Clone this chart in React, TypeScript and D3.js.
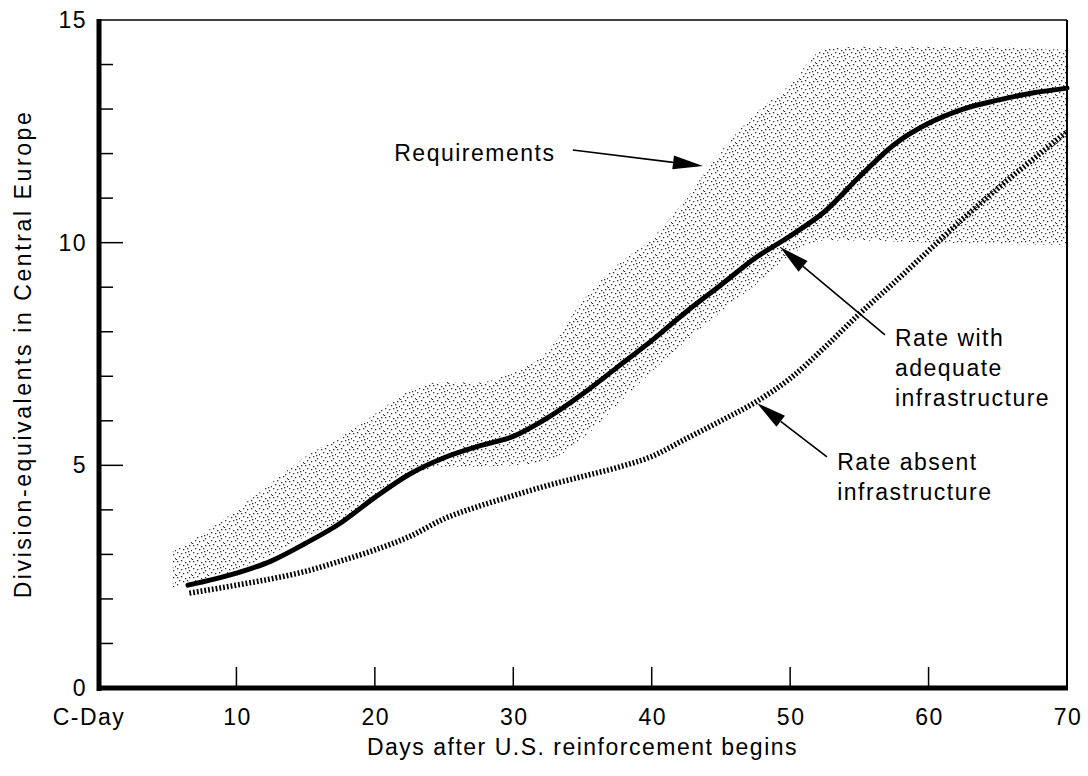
import React from "react";
import * as d3 from "d3";

// ---- data ----
const xTickValues = [0, 10, 20, 30, 40, 50, 60, 70];
const xTickLabels = ["C-Day", "10", "20", "30", "40", "50", "60", "70"];
const yMajorTicks = [0, 5, 10, 15];
const yMinorTicks = [1, 2, 3, 4, 6, 7, 8, 9, 11, 12, 13, 14];

const reqDays = [5.4, 7.5, 10, 12.5, 15, 17.5, 20, 22.5, 25, 27.5, 30, 32.5, 35, 37.5, 40, 42.5, 45, 47.5, 50, 52.5, 55, 60, 65, 70];
const reqLow = [2.25, 2.45, 2.65, 3.0, 3.4, 3.75, 4.25, 4.75, 4.97, 4.97, 5.0, 5.1, 5.6, 6.35, 7.1, 7.8, 8.45, 9.05, 9.72, 10.05, 10.05, 10.0, 9.97, 9.95];
const reqHigh = [3.1, 3.45, 4.0, 4.6, 5.2, 5.63, 6.15, 6.69, 6.87, 6.86, 7.1, 7.57, 8.7, 9.5, 10.1, 11.0, 12.05, 12.9, 13.55, 14.35, 14.4, 14.4, 14.38, 14.33];

const adequateDays = [6.5, 10, 12.5, 15, 17.5, 20, 22.5, 25, 27.5, 30, 32.5, 35, 37.5, 40, 42.5, 45, 47.5, 50, 52.5, 55, 57.5, 60, 62.5, 65, 67.5, 70];
const adequateValues = [2.31, 2.58, 2.85, 3.25, 3.7, 4.28, 4.8, 5.17, 5.43, 5.65, 6.07, 6.6, 7.2, 7.8, 8.45, 9.05, 9.66, 10.15, 10.7, 11.48, 12.2, 12.68, 13.0, 13.2, 13.36, 13.47];

const absentDays = [6.6, 10, 12.5, 15, 17.5, 20, 22.5, 25, 27.5, 30, 32.5, 35, 37.5, 40, 42.5, 45, 47.5, 50, 52.5, 55, 57.5, 60, 62.5, 65, 67.5, 70];
const absentValues = [2.13, 2.31, 2.45, 2.62, 2.85, 3.1, 3.4, 3.8, 4.08, 4.32, 4.55, 4.75, 4.95, 5.2, 5.6, 6.0, 6.42, 6.95, 7.65, 8.4, 9.1, 9.82, 10.54, 11.22, 11.86, 12.49];

// annotation labels (in data units: day, value)
const annLabels = [
  { lines: ["Requirements"], day: 21.4, value: 12.01 },
  { lines: ["Rate with", "adequate", "infrastructure"], day: 57.57, value: 7.86 },
  { lines: ["Rate absent", "infrastructure"], day: 53.4, value: 5.08 },
];
const annArrows = [
  { fromDay: 34.3, fromValue: 12.08, toDay: 43.7, toValue: 11.72 },
  { fromDay: 56.85, fromValue: 7.93, toDay: 49.27, toValue: 9.9 },
  { fromDay: 52.66, fromValue: 5.19, toDay: 47.6, toValue: 6.4 },
];

const xTitle = "Days after U.S. reinforcement begins";
const yTitle = "Division-equivalents in Central Europe";

// stipple tile dot positions (pattern styling)
const stippleDots = [
  [1, 1], [5, 0], [9, 2], [13, 1], [3, 4], [7, 5], [11, 4], [15, 6], [1, 8],
  [5, 9], [9, 8], [13, 10], [3, 12], [7, 13], [11, 12], [15, 14], [0, 15], [12, 7],
];

const W = 1088;
const H = 776;
const FONT = "'Liberation Sans', Arial, Helvetica, sans-serif";

export default function App() {
  const x = d3.scaleLinear().domain([0, 70]).range([98, 1067]);
  const y = d3.scaleLinear().domain([0, 15]).range([688, 20]);

  const band = reqDays.map((d, i) => ({ d, lo: reqLow[i], hi: reqHigh[i] }));
  const areaGen = d3
    .area<{ d: number; lo: number; hi: number }>()
    .x((p) => x(p.d))
    .y0((p) => y(p.lo))
    .y1((p) => y(p.hi))
    .curve(d3.curveMonotoneX);

  const lineGen = d3
    .line<[number, number]>()
    .x((p) => x(p[0]))
    .y((p) => y(p[1]))
    .curve(d3.curveMonotoneX);

  const adequate = adequateDays.map((d, i) => [d, adequateValues[i]] as [number, number]);
  const absent = absentDays.map((d, i) => [d, absentValues[i]] as [number, number]);

  const textStyle = { fontFamily: FONT, fontSize: 23, letterSpacing: 1.5, fill: "#000" } as const;

  const arrow = (a: typeof annArrows[number], i: number) => {
    const x1 = x(a.fromDay), y1 = y(a.fromValue), x2 = x(a.toDay), y2 = y(a.toValue);
    const dx = x2 - x1, dy = y2 - y1;
    const len = Math.hypot(dx, dy);
    const ux = dx / len, uy = dy / len;
    const hl = 30, hw = 7;
    const bx = x2 - ux * hl, by = y2 - uy * hl;
    const pts = [
      [x2, y2],
      [bx - uy * hw, by + ux * hw],
      [bx + uy * hw, by - ux * hw],
    ];
    return (
      <g key={"arr" + i}>
        <line x1={x1} y1={y1} x2={bx} y2={by} stroke="#000" strokeWidth={1.6} />
        <polygon points={pts.map((p) => p.join(",")).join(" ")} fill="#000" />
      </g>
    );
  };

  return (
    <svg
      width={W}
      height={H}
      viewBox={`0 0 ${W} ${H}`}
      style={{ position: "absolute", left: 0, top: 0, background: "#fff" }}
    >
      <defs>
        <pattern id="stipple" width={16} height={16} patternUnits="userSpaceOnUse">
          {stippleDots.map((p, i) => (
            <rect key={i} x={p[0]} y={p[1]} width={1.3} height={1.3} fill="#333" />
          ))}
        </pattern>
        <clipPath id="plotClip">
          <rect x={x(0)} y={y(15)} width={x(70) - x(0)} height={y(0) - y(15)} />
        </clipPath>
      </defs>
      <rect x={0} y={0} width={W} height={H} fill="#fff" />

      {/* requirements band */}
      <path d={areaGen(band) || ""} fill="url(#stipple)" clipPath="url(#plotClip)" />

      {/* absent infrastructure (hatched) */}
      <path
        d={lineGen(absent) || ""}
        fill="none"
        stroke="#000"
        strokeWidth={5.5}
        strokeDasharray="1.8 2"
        clipPath="url(#plotClip)"
      />
      {/* adequate infrastructure (solid) */}
      <path d={lineGen(adequate) || ""} fill="none" stroke="#000" strokeWidth={5} strokeLinecap="round" />

      {/* frame */}
      <line x1={x(0)} y1={y(15)} x2={x(70)} y2={y(15)} stroke="#000" strokeWidth={1.5} />
      <line x1={x(70)} y1={y(15)} x2={x(70)} y2={y(0)} stroke="#000" strokeWidth={2} />
      <line x1={x(0) + 1} y1={y(15) - 1} x2={x(0) + 1} y2={y(0) + 3} stroke="#000" strokeWidth={5} />
      <line x1={x(0) - 1} y1={y(0)} x2={x(70) + 1} y2={y(0)} stroke="#000" strokeWidth={5} />

      {/* y ticks */}
      {yMajorTicks.filter((v) => v > 0 && v < 15).map((v) => (
        <line key={"ym" + v} x1={x(0)} x2={x(0) + 25} y1={y(v)} y2={y(v)} stroke="#000" strokeWidth={1.5} />
      ))}
      {yMinorTicks.map((v) => (
        <line key={"yn" + v} x1={x(0)} x2={x(0) + 15} y1={y(v)} y2={y(v)} stroke="#000" strokeWidth={1.5} />
      ))}
      {yMajorTicks.map((v) => (
        <text key={"yl" + v} x={87} y={y(v) + 8} textAnchor="end" style={textStyle}>
          {String(v)}
        </text>
      ))}

      {/* x ticks */}
      {xTickValues.filter((v) => v > 0 && v < 70).map((v) => (
        <line key={"xt" + v} x1={x(v)} x2={x(v)} y1={y(0)} y2={y(0) - 21} stroke="#000" strokeWidth={1.5} />
      ))}
      {xTickValues.map((v, i) => (
        <text
          key={"xl" + v}
          x={x(v) + (i === 0 ? -9 : 1)}
          y={725}
          textAnchor="middle"
          style={textStyle}
        >
          {xTickLabels[i]}
        </text>
      ))}

      {/* axis titles */}
      <text x={(x(0) + x(70)) / 2} y={755} textAnchor="middle" style={textStyle}>
        {xTitle}
      </text>
      <text
        transform={`translate(31, ${(y(0) + y(15)) / 2}) rotate(-90)`}
        textAnchor="middle"
        style={{ ...textStyle, letterSpacing: 2.6 }}
      >
        {yTitle}
      </text>

      {/* annotations */}
      {annArrows.map(arrow)}
      {annLabels.map((a, i) => (
        <text key={"an" + i} style={textStyle}>
          {a.lines.map((ln, j) => (
            <tspan key={j} x={x(a.day)} y={y(a.value) + 8 + j * 30}>
              {ln}
            </tspan>
          ))}
        </text>
      ))}
    </svg>
  );
}
